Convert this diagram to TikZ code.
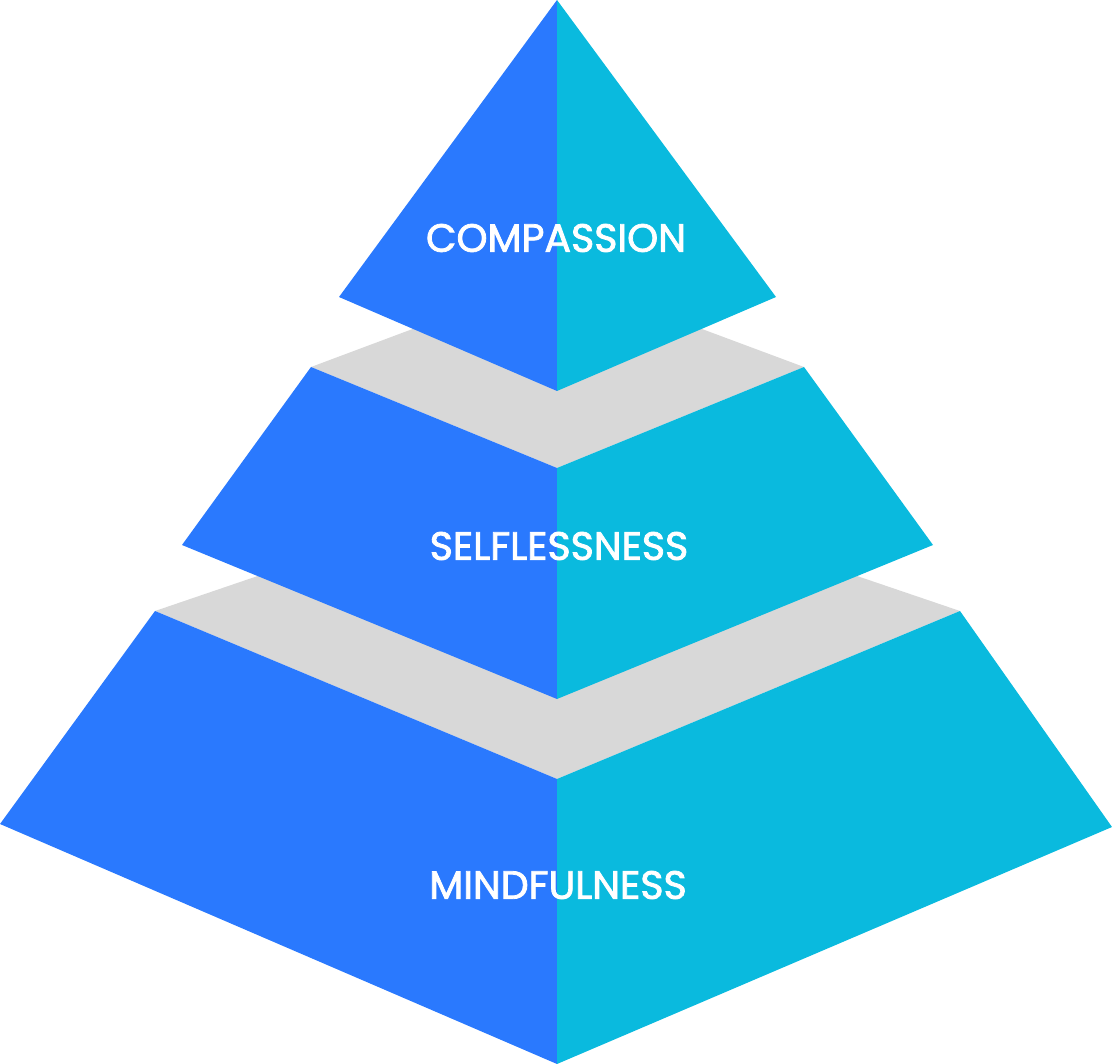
\documentclass[tikz,border=0pt]{standalone}
\usepackage{fontspec}
\newfontfamily\lblfont{Poppins}[FakeBold=2]
\definecolor{pblue}{HTML}{2A79FE}
\definecolor{pcyan}{HTML}{0ABADE}
\definecolor{pgray}{HTML}{D8D8D8}
\begin{document}
\begin{tikzpicture}[x=1pt,y=-1pt,
  lbl/.style={text=white,font=\lblfont\fontsize{39.5}{40}\selectfont,inner sep=0pt,anchor=center}]
\useasboundingbox (0,0) rectangle (1112,1064);
% grey bands (behind)
\fill[pgray] (155,611) -- (557,474) -- (960,611) -- (557,779) -- cycle;
\fill[pgray] (311,367) -- (557,275) -- (804,367) -- (557,468) -- cycle;
% bottom layer
\fill[pblue] (155,611) -- (557,779) -- (557,1064) -- (0,824) -- cycle;
\fill[pcyan] (960,611) -- (557,779) -- (557,1064) -- (1112,827) -- cycle;
% middle layer
\fill[pblue] (311,367) -- (557,468) -- (557,699) -- (182,545) -- cycle;
\fill[pcyan] (804,367) -- (557,468) -- (557,699) -- (933,545) -- cycle;
% top layer
\fill[pblue] (557,0) -- (557,391) -- (339,297) -- cycle;
\fill[pcyan] (557,0) -- (557,391) -- (776,297) -- cycle;
% labels
\node[lbl] (compassion) at (556,238) {COMPASSION};
\node[lbl] (selflessness) at (559,546) {SELFLESSNESS};
\node[lbl] (mindfulness) at (558,885) {MINDFULNESS};
\end{tikzpicture}
\end{document}
